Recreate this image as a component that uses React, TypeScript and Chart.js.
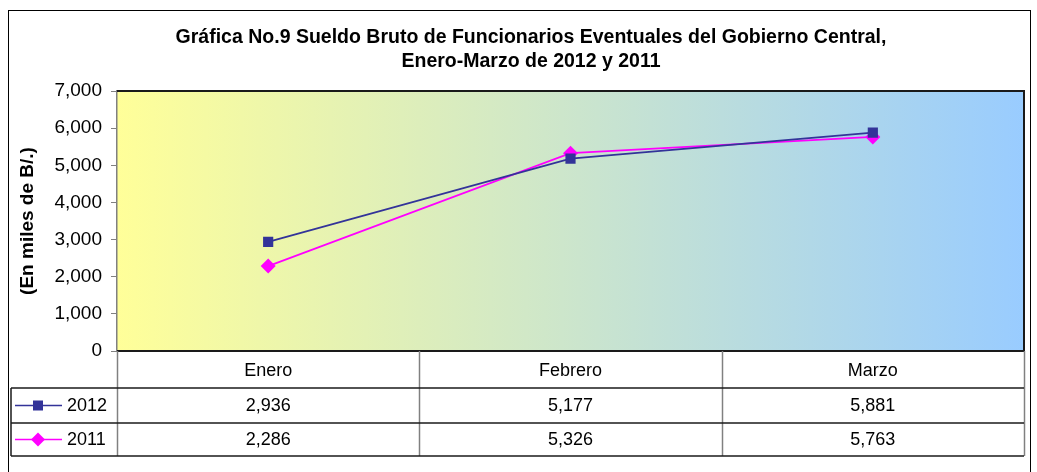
import React, { useEffect, useRef } from "react";
import { Chart, registerables } from "chart.js";

Chart.register(...registerables);

const categories = ["Enero", "Febrero", "Marzo"];
const series2012 = [2936, 5177, 5881];
const series2011 = [2286, 5326, 5763];
const seriesLabels = ["2012", "2011"];
const titleLines = [
  "Gráfica No.9 Sueldo Bruto de Funcionarios Eventuales del Gobierno Central,",
  "Enero-Marzo de 2012 y 2011",
];
const yTitle = "(En miles de B/.)";

const COLOR_2012 = "#333399";
const COLOR_2011 = "#FF00FF";
const FONT = "'Liberation Sans', Arial, sans-serif";

const fmt = (v: number) => v.toLocaleString("en-US");

const tablePlugin = {
  id: "tablePlugin",
  beforeDraw(chart: any) {
    const { ctx, chartArea } = chart;
    ctx.save();
    ctx.fillStyle = "#ffffff";
    ctx.fillRect(0, 0, chart.width, chart.height);
    ctx.strokeStyle = "#000000";
    ctx.lineWidth = 1;
    ctx.strokeRect(8.5, 10.5, 1022, 500);
    const g = ctx.createLinearGradient(chartArea.left, 0, chartArea.right, 0);
    g.addColorStop(0, "#FFFF99");
    g.addColorStop(1, "#99CCFF");
    ctx.fillStyle = g;
    ctx.fillRect(chartArea.left, chartArea.top, chartArea.right - chartArea.left, chartArea.bottom - chartArea.top);
    ctx.restore();
  },
  afterDraw(chart: any) {
    const { ctx, chartArea } = chart;
    const xs = chart.scales.x;
    const L = chartArea.left;
    const R = chartArea.right;
    const B = chartArea.bottom;
    const rowTops = [B, 388, 423, 456];
    ctx.save();
    ctx.strokeStyle = "#1a1a1a";
    ctx.lineWidth = 2;
    ctx.beginPath();
    ctx.moveTo(L, chartArea.top);
    ctx.lineTo(R, chartArea.top);
    ctx.lineTo(R, B);
    ctx.lineTo(L, B);
    ctx.stroke();

    ctx.strokeStyle = "#808080";
    ctx.lineWidth = 1.5;
    for (let i = 0; i <= categories.length; i++) {
      const x = Math.round(xs.getPixelForValue(i - 0.5)) + 0.5;
      ctx.beginPath();
      ctx.moveTo(x, B);
      ctx.lineTo(x, rowTops[3]);
      ctx.stroke();
    }
    ctx.strokeStyle = "#1a1a1a";
    ctx.lineWidth = 1.5;
    for (let r = 1; r < rowTops.length; r++) {
      ctx.beginPath();
      ctx.moveTo(11, rowTops[r]);
      ctx.lineTo(R, rowTops[r]);
      ctx.stroke();
    }
    ctx.beginPath();
    ctx.moveTo(11, rowTops[1]);
    ctx.lineTo(11, rowTops[3]);
    ctx.stroke();

    ctx.fillStyle = "#000000";
    ctx.font = `18px ${FONT}`;
    ctx.textAlign = "center";
    ctx.textBaseline = "middle";
    const rows = [series2012, series2011];
    rows.forEach((vals, r) => {
      const y = (rowTops[r + 1] + rowTops[r + 2]) / 2 + 1;
      vals.forEach((v, i) => {
        ctx.fillText(fmt(v), xs.getPixelForValue(i), y);
      });
    });

    const colors = [COLOR_2012, COLOR_2011];
    rows.forEach((_, r) => {
      const y = (rowTops[r + 1] + rowTops[r + 2]) / 2;
      ctx.strokeStyle = colors[r];
      ctx.lineWidth = 1.5;
      ctx.beginPath();
      ctx.moveTo(15, y);
      ctx.lineTo(62, y);
      ctx.stroke();
      ctx.fillStyle = colors[r];
      if (r === 0) {
        ctx.fillRect(33, y - 5, 10, 10);
      } else {
        ctx.beginPath();
        ctx.moveTo(38, y - 7);
        ctx.lineTo(45, y);
        ctx.lineTo(38, y + 7);
        ctx.lineTo(31, y);
        ctx.closePath();
        ctx.fill();
      }
      ctx.fillStyle = "#000000";
      ctx.textAlign = "left";
      ctx.fillText(seriesLabels[r], 67, y + 1);
    });

    ctx.font = `bold 19.5px ${FONT}`;
    ctx.textAlign = "center";
    ctx.fillStyle = "#000000";
    ctx.fillText(titleLines[0], 531, 38);
    ctx.fillText(titleLines[1], 531, 62);
    ctx.restore();
  },
};

export default function App() {
  const ref = useRef<HTMLCanvasElement>(null);
  useEffect(() => {
    if (!ref.current) return;
    const chart = new Chart(ref.current, {
      type: "line",
      data: {
        labels: categories,
        datasets: [
          {
            label: seriesLabels[0],
            data: series2012,
            borderColor: COLOR_2012,
            backgroundColor: COLOR_2012,
            borderWidth: 1.75,
            pointStyle: "rect",
            pointRadius: 7.2,
            pointBorderWidth: 0,
            pointBackgroundColor: COLOR_2012,
            tension: 0,
          },
          {
            label: seriesLabels[1],
            data: series2011,
            borderColor: COLOR_2011,
            backgroundColor: COLOR_2011,
            borderWidth: 1.75,
            pointStyle: "rectRot",
            pointRadius: 7.5,
            pointBorderWidth: 0,
            pointBackgroundColor: COLOR_2011,
            tension: 0,
          },
        ],
      },
      options: {
        responsive: false,
        animation: false,
        layout: { padding: { top: 91, right: 13, left: 0, bottom: 0 } },
        plugins: {
          legend: { display: false },
          title: { display: false },
          tooltip: { enabled: false },
        },
        scales: {
          x: {
            offset: true,
            afterFit: (s: any) => {
              s.height = 121;
            },
            grid: { display: false, drawTicks: false },
            border: { display: false },
            ticks: {
              padding: 9,
              color: "#000",
              font: { family: FONT, size: 18 },
              maxRotation: 0,
            },
          },
          y: {
            min: 0,
            max: 7000,
            afterFit: (s: any) => {
              s.width = 117;
            },
            grid: { drawOnChartArea: false, drawTicks: true, tickLength: 6, color: "#808080" },
            border: { display: true, color: "#808080", width: 1.5 },
            ticks: {
              stepSize: 1000,
              padding: 9,
              color: "#000",
              font: { family: FONT, size: 19 },
              callback: (v: any) => fmt(Number(v)),
            },
            title: {
              display: true,
              text: yTitle,
              color: "#000",
              font: { family: FONT, size: 19, weight: "bold" },
              padding: { top: 16, bottom: 0 },
            },
          },
        },
      },
      plugins: [tablePlugin],
    });
    return () => chart.destroy();
  }, []);
  return (
    <div style={{ position: "fixed", left: 0, top: 0, width: 1037, height: 472 }}>
      <canvas ref={ref} width={1037} height={472} />
    </div>
  );
}
